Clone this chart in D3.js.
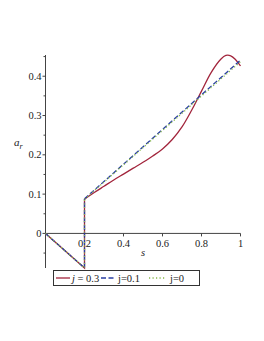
<!DOCTYPE html>
<html>
<head>
<meta charset="utf-8">
<script src="https://cdn.jsdelivr.net/npm/d3@7"></script>
<style>
  body { margin: 0; background: #fff; }
  svg { display: block; }
  text { font-family: 'Liberation Serif', 'DejaVu Serif', serif; }
</style>
</head>
<body>
<svg id="chart" width="264" height="341"></svg>
<script>
// data
const sRed = [0, 0.2, 0.2, 0.25, 0.3, 0.35, 0.4, 0.45, 0.5, 0.55, 0.6, 0.65, 0.7, 0.75, 0.8, 0.85, 0.9, 0.925, 0.95, 0.975, 1.0];
const aRed = [0, -0.088, 0.087, 0.104, 0.120, 0.136, 0.151, 0.166, 0.181, 0.197, 0.215, 0.239, 0.271, 0.314, 0.362, 0.410, 0.444, 0.453, 0.452, 0.442, 0.426];
const sLin = [0, 0.2, 0.2, 1.0];
const aBlue = [0, -0.088, 0.088, 0.441];
const aGreen = [0, -0.088, 0.087, 0.437];
const yTicks = [0, 0.1, 0.2, 0.3, 0.4];
const yMinor = [-0.05, 0.05, 0.15, 0.25, 0.35, 0.45];
const xTicks = [0.2, 0.4, 0.6, 0.8, 1];
const legendLabels = ['j = 0.3', 'j=0.1', 'j=0'];

const svg = d3.select('#chart');
const x = d3.scaleLinear().domain([0, 1]).range([45.5, 240.5]);
const y = d3.scaleLinear().domain([-0.088, 0.454]).range([268, 55]);
const axisColor = '#444';
const serif = "'Liberation Serif', 'DejaVu Serif', serif";

// axes
svg.append('line').attr('x1', x(0)).attr('x2', x(0)).attr('y1', y(0.454)).attr('y2', y(-0.088))
  .attr('stroke', axisColor).attr('stroke-width', 1);
svg.append('line').attr('x1', x(0)).attr('x2', x(1)).attr('y1', y(0)).attr('y2', y(0))
  .attr('stroke', axisColor).attr('stroke-width', 1);

svg.selectAll('.ytick').data(yTicks).enter().append('line')
  .attr('x1', x(0) - 3).attr('x2', x(0)).attr('y1', d => y(d)).attr('y2', d => y(d))
  .attr('stroke', axisColor);
svg.selectAll('.yminor').data(yMinor).enter().append('line')
  .attr('x1', x(0) - 2).attr('x2', x(0)).attr('y1', d => y(d)).attr('y2', d => y(d))
  .attr('stroke', axisColor);
svg.selectAll('.ylab').data(yTicks).enter().append('text')
  .attr('x', x(0) - 4).attr('y', d => y(d) + 3.5)
  .attr('font-family', serif)
  .attr('text-anchor', 'end').attr('font-size', 10.5).attr('fill', '#222')
  .text(d => d === 0 ? '0' : d3.format('.1f')(d));

svg.selectAll('.xtick').data(xTicks).enter().append('line')
  .attr('x1', d => x(d)).attr('x2', d => x(d)).attr('y1', y(0)).attr('y2', y(0) + 3)
  .attr('stroke', axisColor);
svg.selectAll('.xlab').data(xTicks).enter().append('text')
  .attr('x', d => x(d)).attr('y', y(0) + 13.5)
  .attr('font-family', serif)
  .attr('text-anchor', 'middle').attr('font-size', 10.5).attr('fill', '#222')
  .text(d => d === 1 ? '1' : d3.format('.1f')(d));

// axis titles
const yt = svg.append('text').attr('x', 14).attr('y', 146).attr('font-size', 11)
  .attr('font-family', serif).attr('font-style', 'italic').attr('fill', '#222');
yt.append('tspan').text('a');
yt.append('tspan').attr('dy', 3).attr('font-size', 8).text('r');
svg.append('text').attr('x', 143).attr('y', 256).attr('font-size', 10.5)
  .attr('font-family', serif).attr('font-style', 'italic').attr('fill', '#222')
  .attr('text-anchor', 'middle').text('s');

// curves: straight pieces up to the jump, smooth after it
const straight = d3.line().x(d => x(d[0])).y(d => y(d[1]));
const smooth = d3.line().x(d => x(d[0])).y(d => y(d[1])).curve(d3.curveCatmullRom.alpha(0.5));
const series = [
  { s: sRed, a: aRed, color: '#a2253c', dash: null },
  { s: sLin, a: aBlue, color: '#2a3fa3', dash: '5,2.5' },
  { s: sLin, a: aGreen, color: '#86b84a', dash: '1.2,2.3' }
];
series.forEach(sr => {
  const pts = sr.s.map((v, i) => [v, sr.a[i]]);
  const head = pts.slice(0, 3);
  const tail = pts.slice(2);
  [[head, straight], [tail, smooth]].forEach(([p, gen]) => {
    svg.append('path')
      .datum(p)
      .attr('fill', 'none')
      .attr('stroke', sr.color)
      .attr('stroke-width', 1.3)
      .attr('stroke-dasharray', sr.dash)
      .attr('d', gen);
  });
});

// legend
const lg = svg.append('g');
lg.append('rect').attr('x', 53.5).attr('y', 270.5).attr('width', 146).attr('height', 15)
  .attr('fill', '#fff').attr('stroke', '#333').attr('stroke-width', 1);
const legendItems = [
  { x0: 56, x1: 70, tx: 72, color: '#a2253c', dash: null },
  { x0: 101, x1: 116, tx: 118, color: '#2a3fa3', dash: '5,2.5' },
  { x0: 149, x1: 165, tx: 170, color: '#86b84a', dash: '1.2,2.3' }
];
legendItems.forEach((it, i) => {
  lg.append('line').attr('x1', it.x0).attr('x2', it.x1).attr('y1', 278).attr('y2', 278)
    .attr('stroke', it.color).attr('stroke-width', 1.3).attr('stroke-dasharray', it.dash);
  const t = lg.append('text').attr('x', it.tx).attr('y', 281.5).attr('font-size', 10.5)
    .attr('font-family', serif).attr('fill', '#222');
  if (i === 0) {
    t.append('tspan').attr('font-style', 'italic').text('j');
    t.append('tspan').text(' = 0.3');
  } else {
    t.text(legendLabels[i]);
  }
});
</script>
</body>
</html>
